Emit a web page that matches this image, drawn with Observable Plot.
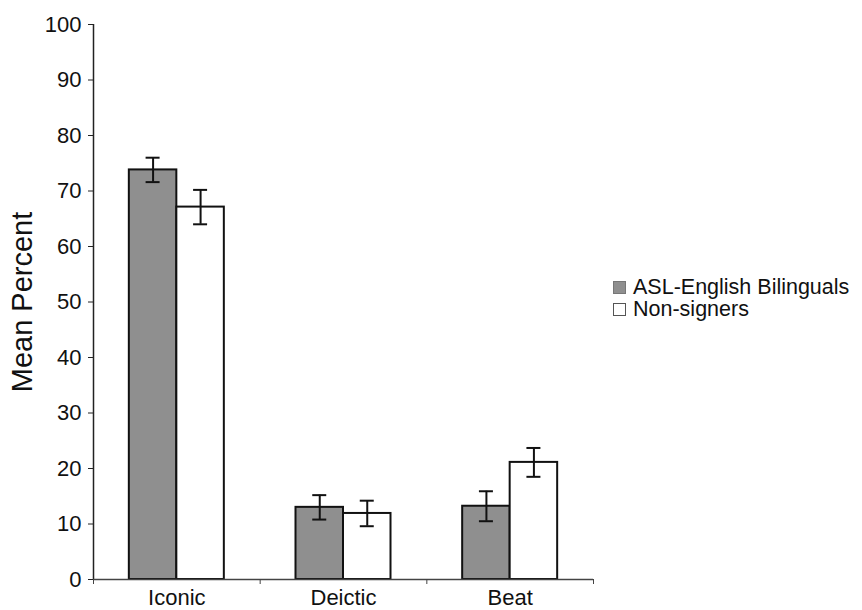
<!DOCTYPE html>
<html>
<head>
<meta charset="utf-8">
<script src="https://cdn.jsdelivr.net/npm/d3@7"></script>
<script src="https://cdn.jsdelivr.net/npm/@observablehq/plot@0.6"></script>
<style>
  body { margin: 0; background: #fff; }
  #wrap { position: relative; width: 862px; height: 610px; font-family: "Liberation Sans", Arial, sans-serif; color: #111; }
  #legend { position: absolute; left: 613px; top: 276px; font-size: 21.5px; line-height: 22px; }
  #legend .row { display: flex; align-items: center; height: 22px; }
  #legend .sw { width: 13px; height: 13px; margin-right: 7px; box-sizing: border-box; }
</style>
</head>
<body>
<div id="wrap">
  <div id="chart"></div>
  <div id="legend"></div>
</div>
<script>
const categories = ["Iconic", "Deictic", "Beat"];
const groups = ["ASL-English Bilinguals", "Non-signers"];
const aslMeans = [73.8, 13.0, 13.2];
const aslErrors = [2.2, 2.2, 2.7];
const nonMeans = [67.1, 11.9, 21.1];
const nonErrors = [3.1, 2.3, 2.6];
const yTicks = [0, 10, 20, 30, 40, 50, 60, 70, 80, 90, 100];
const yTitle = "Mean Percent";
const groupFills = ["#8f8f8f", "#ffffff"];

const barW = 0.285; // fraction of a category slot per bar
const rows = [];
categories.forEach((c, i) => {
  [[aslMeans, aslErrors], [nonMeans, nonErrors]].forEach(([m, e], g) => {
    const x1 = i + 0.5 - barW + g * barW;
    rows.push({cat: c, group: groups[g], g, x1, x2: x1 + barW, xc: x1 + barW / 2,
               value: m[i], lo: m[i] - e[i], hi: m[i] + e[i]});
  });
});
const cap = 0.042;

const chart = Plot.plot({
  width: 862, height: 610,
  marginLeft: 93, marginRight: 269, marginTop: 24, marginBottom: 31,
  style: {fontFamily: '"Liberation Sans", Arial, sans-serif', fontSize: "22px", color: "#111", background: "#fff"},
  x: {domain: [0, categories.length], axis: null},
  y: {domain: [0, 100], axis: null},
  marks: [
    Plot.rect(rows, {x1: "x1", x2: "x2", y1: 0, y2: "value", fill: d => groupFills[d.g], stroke: "#111", strokeWidth: 2}),
    Plot.ruleX(rows, {x: "xc", y1: "lo", y2: "hi", stroke: "#111", strokeWidth: 2}),
    Plot.ruleY(rows, {y: "lo", x1: d => d.xc - cap, x2: d => d.xc + cap, stroke: "#111", strokeWidth: 2}),
    Plot.ruleY(rows, {y: "hi", x1: d => d.xc - cap, x2: d => d.xc + cap, stroke: "#111", strokeWidth: 2}),
    Plot.ruleX([0], {stroke: "#222", strokeWidth: 1.5}),
    Plot.ruleY([0], {stroke: "#444", strokeWidth: 1.5}),
    Plot.axisY({ticks: yTicks, tickSize: 5, tickPadding: 7, label: null, stroke: "#222"}),
    Plot.text([yTitle], {frameAnchor: "left", textAnchor: "middle", rotate: -90, dx: -71, fontSize: 29, fill: "#111"}),
    Plot.axisX({ticks: d3.range(categories.length + 1), tickFormat: () => "", tickSize: 5, label: null, stroke: "#444"}),
    Plot.axisX({ticks: categories.map((c, i) => i + 0.5), tickFormat: v => categories[Math.floor(v)], tickSize: 0, tickPadding: 10, label: null})
  ]
});
document.getElementById("chart").appendChild(chart);

const legend = document.getElementById("legend");
groups.forEach((g, i) => {
  const row = document.createElement("div");
  row.className = "row";
  const sw = document.createElement("div");
  sw.className = "sw";
  sw.style.background = groupFills[i];
  sw.style.border = "1px solid " + (i === 0 ? "#777" : "#555");
  row.appendChild(sw);
  const t = document.createElement("span");
  t.textContent = g;
  row.appendChild(t);
  legend.appendChild(row);
});
</script>
</body>
</html>
